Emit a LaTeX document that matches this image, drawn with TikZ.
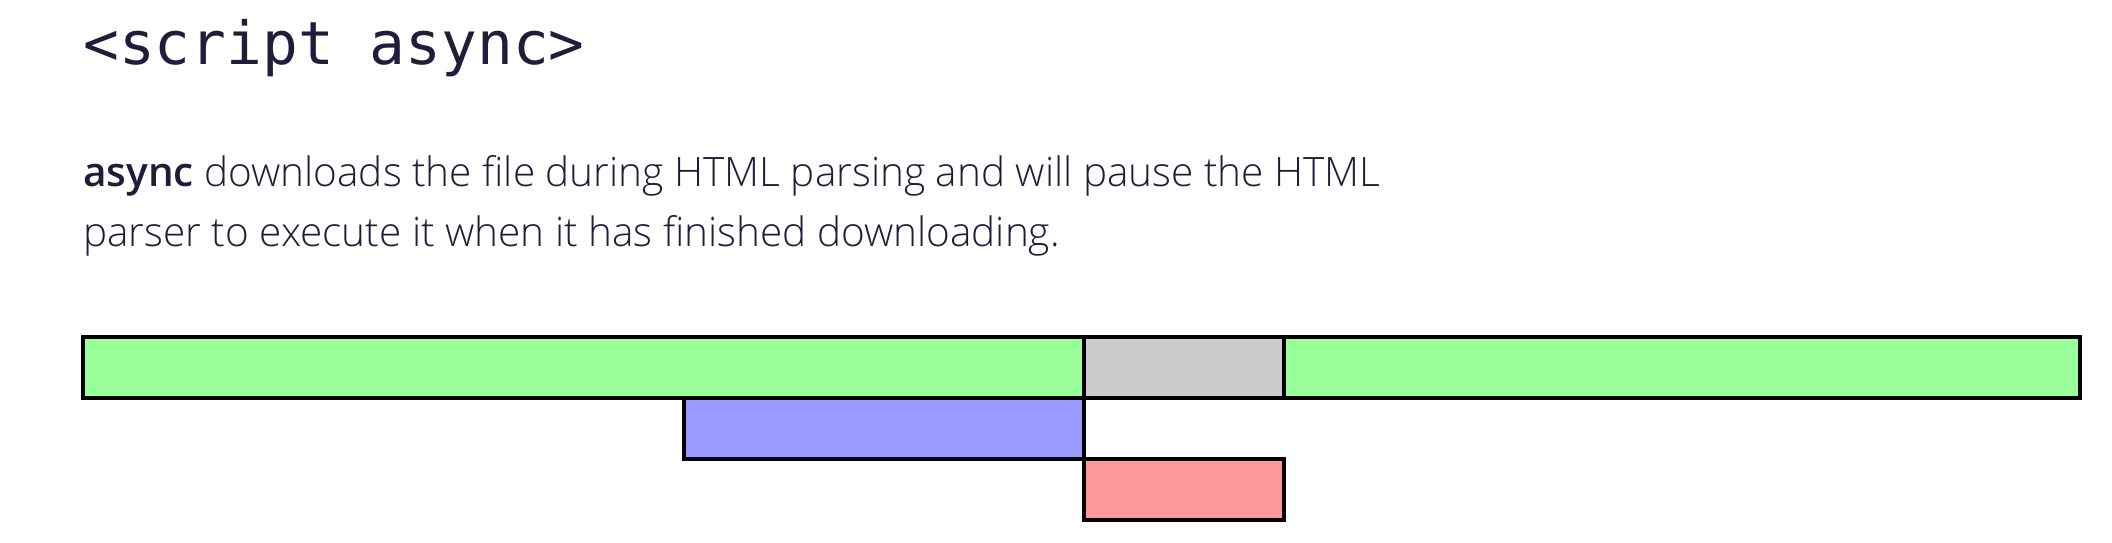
\documentclass[tikz,border=0pt]{standalone}
\usepackage{fontspec}
\usepackage{tikz}
\usetikzlibrary{positioning}

\IfFontExistsTF{Open Sans Light}
  {\setmainfont{Open Sans Light}[BoldFont={Open Sans Semibold}]}
  {\setmainfont{Open Sans}}
\newfontfamily\codefont{DejaVu Sans Mono}

\definecolor{ink}{HTML}{1E1E3A}
\definecolor{parsegreen}{HTML}{99FF99}
\definecolor{pausegrey}{HTML}{CCCCCC}
\definecolor{fetchblue}{HTML}{9999FF}
\definecolor{execred}{HTML}{FF9999}

\begin{document}
\begin{tikzpicture}[x=1pt, y=-1pt,
	bar/.style={draw=black, line width=3.5pt, rectangle, inner sep=0pt, outer sep=0pt, minimum height=61pt},
	txt/.style={text=ink, inner sep=0pt, anchor=base west}]
	
	\useasboundingbox (0,0) rectangle (2112,542);
	
	\node[txt, font=\codefont\fontsize{59.5}{60}\selectfont] (title) at (83, 64) {<script async>};
	\node[txt, font=\fontsize{40.5}{60}\selectfont] (line1) at (83, 186) {\textbf{async} downloads the file during HTML parsing and will pause the HTML};
	\node[txt, font=\fontsize{40.5}{60}\selectfont] (line2) at (83, 246) {parser to execute it when it has finished downloading.};
	
	\node[bar, fill=parsegreen, minimum width=1001pt, anchor=north west] (parse1) at (83, 337) {};
	\node[bar, fill=pausegrey, minimum width=200pt, right=0pt of parse1] (pause) {};
	\node[bar, fill=parsegreen, minimum width=796pt, right=0pt of pause] (parse2) {};
	\node[bar, fill=fetchblue, minimum width=400pt, anchor=north east] (fetch) at (parse1.south east) {};
	\node[bar, fill=execred, minimum width=200pt, anchor=north west] (exec) at (fetch.south east) {};
	
\end{tikzpicture}
\end{document}
